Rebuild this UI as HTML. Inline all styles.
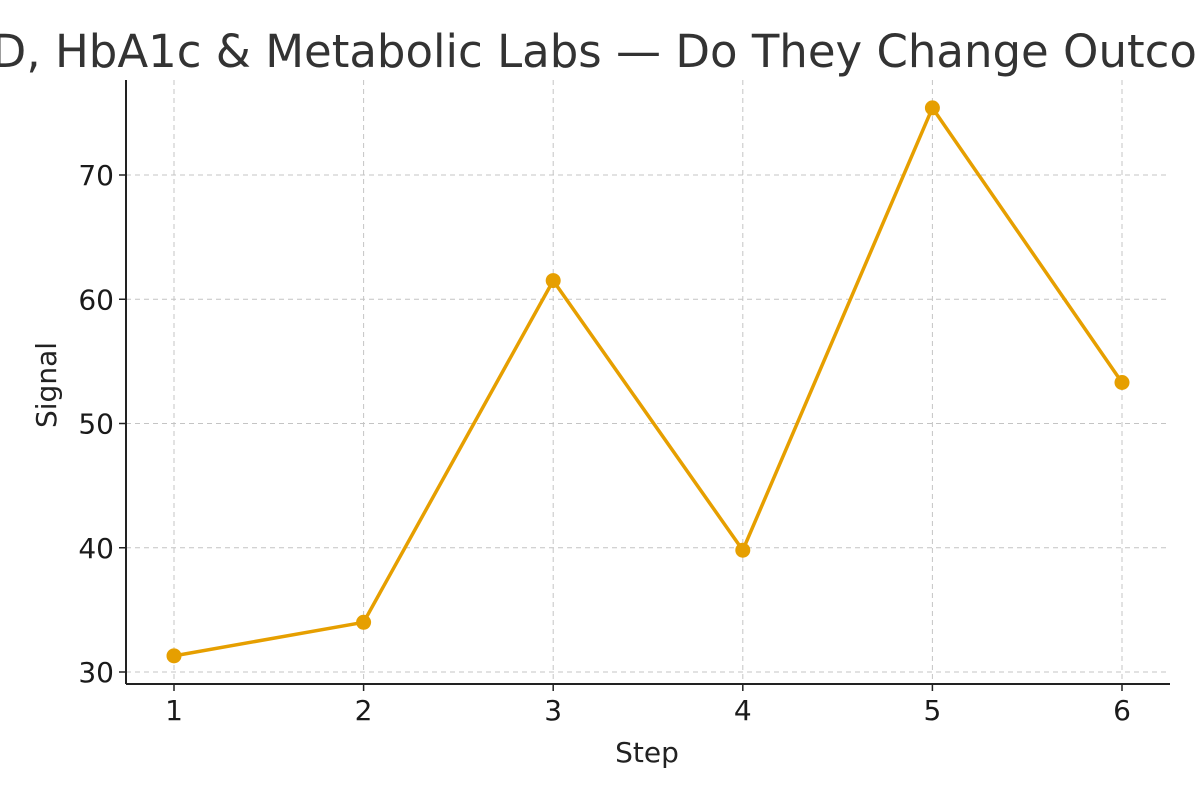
<!DOCTYPE html>
<html><head><meta charset="utf-8"><style>
body{margin:0;background:#fff}
svg{display:block;font-family:"DejaVu Sans","Liberation Sans",sans-serif}
</style></head><body>
<svg width="1200" height="800" viewBox="0 0 1200 800">
<rect width="1200" height="800" fill="#fff"/>
<text id="title" x="-195" y="67" font-size="45" fill="#333" text-anchor="start">Vitamin D, HbA1c &amp; Metabolic Labs — Do They Change Outcomes?</text>
<g id="grid"></g>
<g id="axes"></g>
<g id="series"></g>
<text x="647" y="762" font-size="28" fill="#222" text-anchor="middle">Step</text>
<text transform="translate(56,385) rotate(-90)" font-size="28" fill="#222" text-anchor="middle">Signal</text>
</svg>
<script>
const steps=[1,2,3,4,5,6];
const signal=[31.3,34.0,61.5,39.8,75.4,53.3];
const yTicks=[30,40,50,60,70];
const L=126,R=1170,T=80,B=684;
const x=v=>174+(v-1)*189.6;
const y=v=>672-(v-30)*12.425;
const ns="http://www.w3.org/2000/svg";
function mk(tag,attrs,parent){const e=document.createElementNS(ns,tag);for(const k in attrs)e.setAttribute(k,attrs[k]);parent.appendChild(e);return e;}
const grid=document.getElementById('grid'),axes=document.getElementById('axes'),series=document.getElementById('series');
steps.forEach(s=>{
 const g=mk('line',{x1:x(s),x2:x(s),y1:T,y2:B,stroke:'#c4c4c4','stroke-dasharray':'5,4','stroke-width':1},grid);
 
 
 const t=mk('line',{x1:x(s),x2:x(s),y1:B,y2:B+7,stroke:'#222','stroke-width':1.5},axes);
 
 
 const l=mk('text',{x:x(s),y:B+36,'font-size':28,fill:'#1a1a1a','text-anchor':'middle'},axes);
 l.textContent=s;
 
 
});
yTicks.forEach(v=>{
 const g=mk('line',{x1:L,x2:R,y1:y(v),y2:y(v),stroke:'#c4c4c4','stroke-dasharray':'5,4','stroke-width':1},grid);
 
 
 const t=mk('line',{x1:L-7,x2:L,y1:y(v),y2:y(v),stroke:'#222','stroke-width':1.5},axes);
 
 
 const l=mk('text',{x:L-12,y:y(v)+10,'font-size':28,fill:'#1a1a1a','text-anchor':'end'},axes);
 l.textContent=v;
 
 
});
const ls=mk('line',{x1:L,x2:L,y1:T,y2:B,stroke:'#222','stroke-width':2},axes);


const bs=mk('line',{x1:L,x2:R,y1:B,y2:B,stroke:'#222','stroke-width':2},axes);


const pl=mk('polyline',{points:steps.map((s,i)=>x(s)+','+y(signal[i])).join(' '),fill:'none',stroke:'#E69F00','stroke-width':3.5,'stroke-linejoin':'round'},series);


steps.forEach((s,i)=>{
 const c=mk('circle',{cx:x(s),cy:y(signal[i]),r:7.5,fill:'#E69F00'},series);
 
 
});
</script>
</body></html>
